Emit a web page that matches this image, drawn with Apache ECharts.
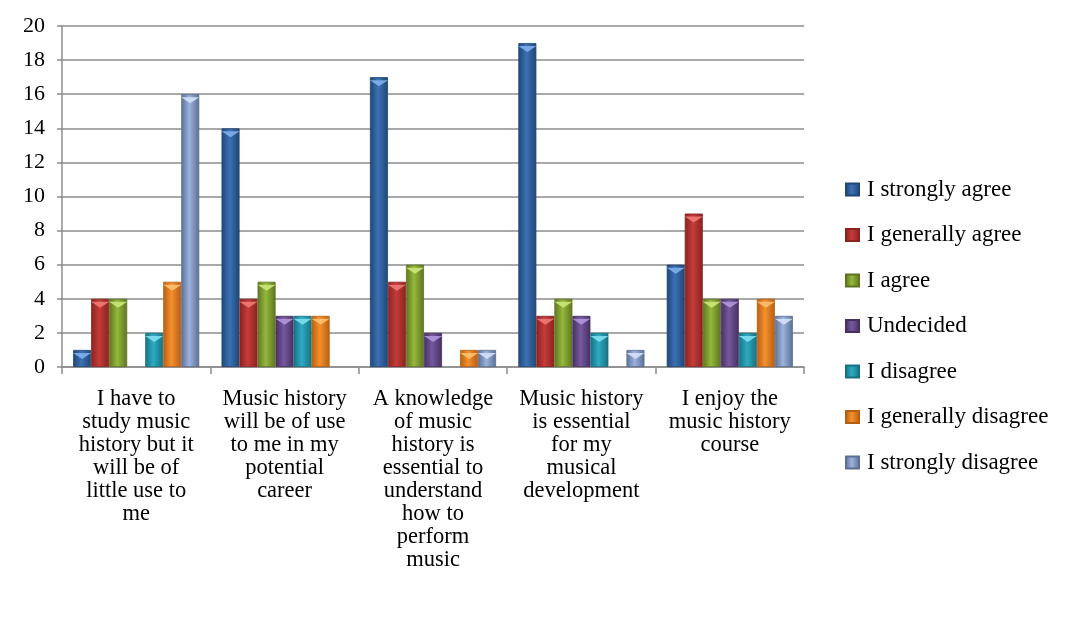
<!DOCTYPE html>
<html>
<head>
<meta charset="utf-8">
<script src="https://cdn.jsdelivr.net/npm/echarts@6/dist/echarts.min.js"></script>
<style>
html, body { margin: 0; padding: 0; background: #fff; }
#chart { width: 1078px; height: 621px; }
</style>
</head>
<body>
<div id="chart"></div>
<script>
var categories = [
	'I have to\nstudy music\nhistory but it\nwill be of\nlittle use to\nme',
	'Music history\nwill be of use\nto me in my\npotential\ncareer',
	'A knowledge\nof music\nhistory is\nessential to\nunderstand\nhow to\nperform\nmusic',
	'Music history\nis essential\nfor my\nmusical\ndevelopment',
	'I enjoy the\nmusic history\ncourse'
];

var seriesNames = ['I strongly agree', 'I generally agree', 'I agree', 'Undecided',
	'I disagree', 'I generally disagree', 'I strongly disagree'];

var stronglyAgree     = [1, 14, 17, 19, 6];
var generallyAgree    = [4, 4, 5, 3, 9];
var agree             = [4, 5, 6, 4, 4];
var undecided         = [0, 3, 2, 3, 4];
var disagree          = [2, 3, 0, 2, 2];
var generallyDisagree = [5, 3, 1, 0, 4];
var stronglyDisagree  = [16, 0, 1, 1, 3];

var yTicks = [0, 2, 4, 6, 8, 10, 12, 14, 16, 18, 20];

// edge, middle, top bevel colours of each bar
var colors = [
	['#1f4677', '#3b71b3', '#7fb0ec'],
	['#8a2220', '#c43c39', '#f07a78'],
	['#5f7421', '#94b83c', '#cbe67a'],
	['#47305f', '#7558a0', '#b196dc'],
	['#167182', '#2eaac2', '#7ee0f2'],
	['#b55f12', '#f58f2c', '#ffc070'],
	['#5a6f93', '#9bb2dd', '#d4e2fa']
];

var allValues = [stronglyAgree, generallyAgree, agree, undecided, disagree, generallyDisagree, stronglyDisagree];

function grad(c) {
	return new echarts.graphic.LinearGradient(0, 0, 1, 0, [
		{ offset: 0, color: c[0] },
		{ offset: 0.45, color: c[1] },
		{ offset: 1, color: c[0] }
	]);
}

var series = [];
for (var i = 0; i < seriesNames.length; i++) {
	var vals = allValues[i].map(function (v) { return v === 0 ? null : v; });
	series.push({
		name: seriesNames[i],
		type: 'bar',
		data: vals,
		barGap: '0%',
		barCategoryGap: '15%',
		itemStyle: {
			color: grad(colors[i]),
			borderColor: colors[i][0],
			borderWidth: 0.8
		}
	});
}
// bevel triangles on top of the bars
for (var j = 0; j < seriesNames.length; j++) {
	series.push({
		name: seriesNames[j] + ' top',
		type: 'pictorialBar',
		data: allValues[j].map(function (v) { return v === 0 ? null : v; }),
		barGap: '0%',
		barCategoryGap: '15%',
		symbol: 'triangle',
		symbolRotate: 180,
		symbolPosition: 'end',
		symbolSize: ['100%', 6],
		symbolOffset: [0, 3],
		z: 3,
		silent: true,
		itemStyle: { color: colors[j][2], opacity: 0.9 }
	});
}

var myChart = echarts.init(document.getElementById('chart'));

myChart.setOption({
	animation: false,
	color: colors.map(function (c) { return c[1]; }),
	grid: { left: 62, top: 26, right: 274, bottom: 254, containLabel: false },
	legend: {
		orient: 'vertical',
		left: 840,
		top: 173,
		icon: 'rect',
		itemWidth: 13,
		itemHeight: 12,
		itemGap: 22.5,
		textStyle: { fontFamily: 'Liberation Serif', fontSize: 23, color: '#000', lineHeight: 23, padding: [0, 0, 0, 3] },
		data: seriesNames
	},
	xAxis: {
		type: 'category',
		data: categories,
		axisLine: { lineStyle: { color: '#8c8c8c', width: 1.5 } },
		axisTick: { show: true, length: 7, lineStyle: { color: '#8c8c8c', width: 1.5 } },
		axisLabel: {
			interval: 0,
			margin: 21,
			fontFamily: 'Liberation Serif',
			fontSize: 22.5,
			lineHeight: 23,
			color: '#000'
		}
	},
	yAxis: {
		type: 'value',
		min: yTicks[0],
		max: yTicks[yTicks.length - 1],
		interval: 2,
		axisLine: { show: true, lineStyle: { color: '#8c8c8c', width: 1.5 } },
		axisTick: { show: true, length: 5, lineStyle: { color: '#8c8c8c', width: 1.5 } },
		splitLine: { lineStyle: { color: '#8c8c8c', width: 1.5 } },
		axisLabel: {
			margin: 17,
			fontFamily: 'Liberation Serif',
			fontSize: 22,
			color: '#000'
		}
	},
	series: series
});
</script>
</body>
</html>
